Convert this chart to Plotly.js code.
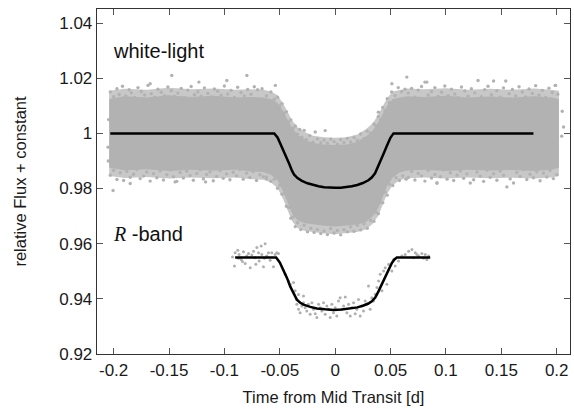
<!DOCTYPE html>
<html>
<head>
<meta charset="utf-8">
<script src="https://cdn.plot.ly/plotly-3.0.1.min.js"></script>
<style>html,body{margin:0;padding:0;background:#fff;}#chart{width:574px;height:409px;}</style>
</head>
<body>
<div id="chart"></div>
<script>
// ---------- data ----------
const xTicks = [-0.2, -0.15, -0.1, -0.05, 0, 0.05, 0.1, 0.15, 0.2];
const xTickText = ['-0.2', '-0.15', '-0.1', '-0.05', '0', '0.05', '0.1', '0.15', '0.2'];
const yTicks = [0.92, 0.94, 0.96, 0.98, 1, 1.02, 1.04];
const yTickText = ['0.92', '0.94', '0.96', '0.98', '1', '1.02', '1.04'];

// white-light: envelope of the dense point cloud (solid core and speckled fringe)
const wlBandX = [-0.204, -0.19, -0.17, -0.15, -0.13, -0.11, -0.09, -0.075, -0.065, -0.058, -0.052, -0.047, -0.043, -0.039, -0.034, -0.028, -0.02, -0.01, 0, 0.01, 0.02, 0.028, 0.034, 0.039, 0.043, 0.047, 0.052, 0.058, 0.065, 0.08, 0.1, 0.12, 0.14, 0.16, 0.18, 0.195, 0.202];
const wlBandUpper = [1.0125, 1.0135, 1.013, 1.0138, 1.0132, 1.0136, 1.013, 1.0132, 1.013, 1.0125, 1.011, 1.008, 1.005, 1.002, 0.9995, 0.998, 0.9965, 0.996, 0.9958, 0.996, 0.997, 0.999, 1.001, 1.004, 1.007, 1.010, 1.0125, 1.013, 1.0135, 1.0132, 1.0136, 1.013, 1.0134, 1.013, 1.0135, 1.013, 1.0125];
const wlBandLower = [0.9875, 0.9866, 0.987, 0.9864, 0.9868, 0.9865, 0.9868, 0.9862, 0.986, 0.985, 0.983, 0.979, 0.975, 0.971, 0.9685, 0.9675, 0.967, 0.9665, 0.9662, 0.9665, 0.967, 0.968, 0.970, 0.973, 0.977, 0.981, 0.984, 0.9858, 0.9865, 0.9868, 0.9864, 0.9868, 0.9865, 0.9867, 0.9864, 0.9868, 0.9875];
const wlOuterUpper = [1.0155, 1.0162, 1.0158, 1.0165, 1.016, 1.0163, 1.0158, 1.016, 1.0158, 1.0152, 1.0138, 1.0108, 1.0078, 1.0048, 1.0022, 1.0006, 0.9991, 0.9986, 0.9984, 0.9986, 0.9996, 1.0016, 1.0037, 1.0068, 1.0098, 1.0128, 1.0152, 1.0158, 1.0163, 1.016, 1.0164, 1.0158, 1.0162, 1.0158, 1.0163, 1.0158, 1.0155];
const wlOuterLower = [0.9845, 0.9838, 0.9842, 0.9836, 0.984, 0.9837, 0.984, 0.9834, 0.9832, 0.9822, 0.9802, 0.9762, 0.9722, 0.9682, 0.9657, 0.9647, 0.9642, 0.9637, 0.9634, 0.9637, 0.9642, 0.9652, 0.9672, 0.9702, 0.9742, 0.9782, 0.9812, 0.983, 0.9837, 0.984, 0.9836, 0.984, 0.9837, 0.9839, 0.9836, 0.984, 0.9845];

// white-light: scattered points at the edges of the cloud
const wlPtsX = [
-0.203,-0.200,-0.197,-0.195,-0.192,-0.189,-0.186,-0.184,-0.181,-0.178,-0.175,-0.172,-0.169,-0.166,-0.163,-0.160,-0.157,-0.154,-0.151,-0.148,-0.145,-0.142,-0.139,-0.136,-0.133,-0.130,-0.127,-0.124,-0.121,-0.118,-0.115,-0.112,-0.109,-0.106,-0.103,-0.100,-0.097,-0.094,-0.091,-0.088,-0.085,-0.082,-0.079,-0.076,-0.073,-0.0797,-0.1475,-0.167,-0.123,-0.0978,
-0.203,-0.200,-0.197,-0.194,-0.191,-0.188,-0.185,-0.182,-0.179,-0.176,-0.173,-0.170,-0.167,-0.164,-0.161,-0.158,-0.155,-0.152,-0.149,-0.146,-0.143,-0.140,-0.137,-0.134,-0.131,-0.128,-0.125,-0.122,-0.119,-0.116,-0.113,-0.110,-0.107,-0.104,-0.101,-0.098,-0.095,-0.092,-0.089,-0.086,-0.083,-0.080,-0.077,-0.074,-0.071,-0.068,-0.065,-0.062,-0.2005,-0.185,-0.1445,-0.117,
-0.2045,-0.205,-0.2048,
-0.070,-0.066,-0.062,-0.058,-0.055,-0.052,-0.050,-0.048,-0.046,-0.044,-0.042,-0.040,-0.038,-0.036,-0.034,-0.032,-0.030,-0.028,-0.026,-0.023,-0.020,-0.018,-0.016,-0.013,-0.010,-0.009,-0.007,-0.004,-0.001,0.002,0.005,0.008,0.011,0.014,0.017,0.020,0.023,0.026,0.029,0.032,0.035,0.037,0.039,0.041,0.043,0.045,0.047,0.049,0.051,0.054,0.057,0.060,0.063,-0.054,0.0512,0.0647,0.0828,0.039,
-0.062,-0.058,-0.055,-0.052,-0.050,-0.048,-0.046,-0.044,-0.042,-0.040,-0.038,-0.036,-0.034,-0.031,-0.028,-0.025,-0.022,-0.019,-0.016,-0.013,-0.010,-0.007,-0.004,-0.001,0.002,0.005,0.008,0.011,0.014,0.017,0.020,0.023,0.026,0.029,0.032,0.035,0.037,0.039,0.041,0.043,0.045,0.047,0.049,0.052,0.055,0.058,0.061,0.064,
0.066,0.069,0.072,0.075,0.078,0.081,0.084,0.087,0.090,0.093,0.096,0.099,0.102,0.105,0.108,0.111,0.114,0.117,0.120,0.123,0.126,0.129,0.132,0.135,0.138,0.141,0.143,0.146,0.149,0.152,0.154,0.157,0.160,0.163,0.166,0.169,0.172,0.175,0.178,0.181,0.184,0.187,0.190,0.193,0.196,0.199,0.201,0.1986,
0.066,0.069,0.072,0.075,0.078,0.081,0.084,0.087,0.090,0.092,0.095,0.098,0.101,0.104,0.107,0.110,0.113,0.116,0.119,0.122,0.125,0.128,0.131,0.134,0.137,0.140,0.143,0.146,0.149,0.152,0.155,0.158,0.161,0.164,0.167,0.170,0.173,0.176,0.179,0.182,0.185,0.188,0.191,0.194,0.197,0.200,0.0918,0.2062,0.2045,0.205
];
const wlPtsY = [
1.0150,1.0133,1.0162,1.0141,1.0171,1.0136,1.0158,1.0147,1.0130,1.0166,1.0152,1.0139,1.0174,1.0144,1.0131,1.0160,1.0149,1.0137,1.0168,1.0155,1.0134,1.0146,1.0163,1.0129,1.0157,1.0170,1.0140,1.0151,1.0135,1.0165,1.0145,1.0132,1.0161,1.0153,1.0138,1.0172,1.0143,1.0156,1.0130,1.0167,1.0148,1.0136,1.0159,1.0142,1.0169,1.0210,1.0210,1.0180,1.0186,1.0192,
0.9848,0.9866,0.9833,0.9857,0.9829,0.9862,0.9841,0.9852,0.9869,0.9836,0.9845,0.9860,0.9827,0.9854,0.9839,0.9864,0.9831,0.9850,0.9867,0.9843,0.9826,0.9858,0.9838,0.9863,0.9847,0.9830,0.9855,0.9868,0.9835,0.9851,0.9861,0.9828,0.9844,0.9865,0.9837,0.9853,0.9832,0.9859,0.9846,0.9869,0.9834,0.9856,0.9840,0.9862,0.9829,0.9850,0.9843,0.9836,0.9793,0.9818,0.9824,0.9824,
1.0050,0.9950,0.9900,
1.0158,1.0162,1.0136,1.0150,1.0124,1.0131,1.0099,1.0108,1.0074,1.0079,1.0041,1.0049,1.0019,1.0027,0.9998,1.0014,0.9986,1.0011,0.9978,0.9992,0.9968,1.0005,0.9980,0.9966,0.9976,1.0010,0.9964,0.9979,0.9970,0.9961,0.9977,0.9967,0.9982,0.9969,0.9985,0.9974,0.9998,0.9981,1.0008,1.0001,1.0034,1.0027,1.0061,1.0049,1.0094,1.0082,1.0126,1.0112,1.0150,1.0137,1.0166,1.0151,1.0160,1.0174,1.0180,1.0204,1.0186,1.0077,
0.9842,0.9826,0.9834,0.9801,0.9812,0.9779,0.9783,0.9736,0.9731,0.9692,0.9697,0.9662,0.9676,0.9651,0.9667,0.9643,0.9656,0.9641,0.9651,0.9637,0.9646,0.9633,0.9655,0.9639,0.9648,0.9632,0.9651,0.9643,0.9661,0.9645,0.9667,0.9650,0.9672,0.9656,0.9684,0.9681,0.9714,0.9709,0.9751,0.9748,0.9787,0.9776,0.9816,0.9811,0.9839,0.9829,0.9846,0.9834,
1.0146,1.0163,1.0131,1.0157,1.0170,1.0186,1.0139,1.0152,1.0166,1.0134,1.0149,1.0172,1.0137,1.0160,1.0143,1.0129,1.0168,1.0154,1.0135,1.0162,1.0147,1.0192,1.0133,1.0158,1.0171,1.0140,1.0190,1.0155,1.0131,1.0165,1.0190,1.0144,1.0159,1.0136,1.0169,1.0150,1.0132,1.0161,1.0145,1.0173,1.0138,1.0156,1.0130,1.0164,1.0148,1.0174,1.0142,1.0174,
0.9840,0.9862,0.9831,0.9855,0.9846,0.9827,0.9866,0.9838,0.9851,0.9820,0.9843,0.9868,0.9834,0.9857,0.9829,0.9849,0.9864,0.9837,0.9853,0.9820,0.9832,0.9860,0.9845,0.9826,0.9867,0.9841,0.9854,0.9830,0.9863,0.9848,0.9806,0.9835,0.9820,0.9858,0.9844,0.9869,0.9833,0.9852,0.9839,0.9861,0.9828,0.9856,0.9842,0.9865,0.9836,0.9850,0.9820,1.0023,0.9990,1.0080
];

// white-light model
const wlModelX = [-0.203, -0.055, -0.052, -0.0485, -0.045, -0.0415, -0.039, -0.037, -0.034, -0.030, -0.025, -0.020, -0.015, -0.010, -0.005, 0, 0.005, 0.010, 0.015, 0.020, 0.025, 0.030, 0.033, 0.036, 0.040, 0.0435, 0.047, 0.050, 0.0527, 0.179];
const wlModelY = [1.0, 1.0, 0.9985, 0.9955, 0.9922, 0.9890, 0.9865, 0.9850, 0.9838, 0.9828, 0.9819, 0.9813, 0.9808, 0.9805, 0.9803, 0.9803, 0.9803, 0.9805, 0.9808, 0.9813, 0.9820, 0.9830, 0.9840, 0.9855, 0.9890, 0.9924, 0.9958, 0.9985, 1.0, 1.0];

// R-band points
const rPtsX = [-0.0927,-0.0903,-0.0879,-0.0867,-0.0849,-0.0828,-0.0812,-0.0797,-0.0782,-0.0767,-0.0752,-0.0737,-0.0722,-0.0707,-0.0692,-0.0686,-0.0668,-0.0662,-0.0647,-0.0632,-0.0617,-0.0602,-0.0587,-0.0572,-0.0557,-0.0542,-0.0527,-0.0512,-0.0909,-0.0873,-0.0837,-0.0716,-0.0638,
-0.0451,-0.0421,-0.0406,-0.0376,-0.0361,-0.0346,-0.0331,-0.0301,-0.0286,
-0.0346,-0.0331,-0.0316,-0.0286,-0.0271,-0.0256,-0.0241,-0.0226,-0.0210,-0.0195,-0.0180,-0.0165,-0.0150,-0.0135,-0.0120,-0.0105,-0.0090,-0.0075,-0.0060,-0.0045,-0.0030,-0.0015,0.0000,0.0015,0.0030,0.0045,0.0060,0.0076,0.0091,0.0106,0.0121,0.0136,0.0151,0.0166,0.0181,0.0196,0.0211,0.0226,0.0241,0.0256,0.0271,0.0286,0.0301,0.0316,0.0331,
0.0346,0.0362,0.0377,0.0392,0.0407,0.0422,0.0437,0.0452,0.0467,0.0482,0.0512,0.0527,0.0542,0.0572,0.0602,0.0632,0.0663,0.0693,0.0708,0.0723,0.0738,0.0753,0.0783,0.0798,0.0813,0.0828,0.0843];
const rPtsY = [0.9552,0.9567,0.9576,0.9561,0.9543,0.9571,0.9528,0.9555,0.9564,0.9513,0.9559,0.9573,0.9549,0.9586,0.9567,0.9537,0.9592,0.9561,0.9516,0.9600,0.9555,0.9567,0.9540,0.9567,0.9516,0.9561,0.9567,0.9564,0.9519,0.9547,0.9535,0.9525,0.9547,
0.9489,0.9465,0.9453,0.9459,0.9429,0.9398,0.9416,0.9374,0.9410,
0.9380,0.9362,0.9350,0.9386,0.9368,0.9356,0.9380,0.9344,0.9386,0.9362,0.9346,0.9332,0.9380,0.9368,0.9356,0.9386,0.9344,0.9374,0.9362,0.9332,0.9380,0.9350,0.9368,0.9338,0.9392,0.9404,0.9362,0.9374,0.9407,0.9350,0.9380,0.9338,0.9368,0.9386,0.9346,0.9362,0.9398,0.9338,0.9374,0.9356,0.9392,0.9380,0.9447,0.9362,0.9404,
0.9392,0.9417,0.9441,0.9465,0.9489,0.9429,0.9501,0.9513,0.9453,0.9525,0.9501,0.9543,0.9519,0.9537,0.9555,0.9561,0.9573,0.9579,0.9549,0.9567,0.9561,0.9555,0.9564,0.9547,0.9561,0.9543,0.9555];

// R-band model
const rModelX = [-0.0903, -0.0533, -0.050, -0.0467, -0.0435, -0.0406, -0.0375, -0.0346, -0.0315, -0.0286, -0.0225, -0.0165, -0.009, -0.0015, 0.006, 0.0135, 0.020, 0.0256, 0.030, 0.0331, 0.0362, 0.0391, 0.0422, 0.0452, 0.0482, 0.0512, 0.0535, 0.0557, 0.0858];
const rModelY = [0.955, 0.955, 0.9532, 0.9506, 0.9476, 0.9445, 0.9418, 0.9397, 0.9386, 0.9379, 0.9371, 0.9365, 0.9362, 0.936, 0.9361, 0.9364, 0.9369, 0.9376, 0.9383, 0.9391, 0.9405, 0.9427, 0.9453, 0.9482, 0.9508, 0.953, 0.9543, 0.955, 0.955];

// ---------- figure ----------
const gray = '#b2b2b2';
const fringe = '#c8c8c8';
const rev = a => a.slice().reverse();
const coreX = wlBandX.concat(rev(wlBandX));
const coreY = wlBandUpper.concat(rev(wlBandLower));
const outerY = wlOuterUpper.concat(rev(wlOuterLower));

const traces = [
  {x: coreX, y: outerY, type: 'scatter', mode: 'lines', fill: 'toself', fillcolor: fringe, line: {width: 0, color: fringe}, hoverinfo: 'skip'},
  {x: coreX, y: coreY, type: 'scatter', mode: 'lines', fill: 'toself', fillcolor: gray, line: {width: 0, color: gray}, hoverinfo: 'skip'},
  {x: wlPtsX, y: wlPtsY, type: 'scatter', mode: 'markers', marker: {size: 3.4, color: gray}, hoverinfo: 'skip'},
  {x: wlModelX, y: wlModelY, type: 'scatter', mode: 'lines', line: {color: '#000', width: 2.5}},
  {x: rPtsX, y: rPtsY, type: 'scatter', mode: 'markers', marker: {size: 3, color: '#b0b0b0'}, hoverinfo: 'skip'},
  {x: rModelX, y: rModelY, type: 'scatter', mode: 'lines', line: {color: '#000', width: 2.5}}
];

const fontFam = 'Liberation Sans, Arial, sans-serif';
const layout = {
  width: 574, height: 409,
  margin: {l: 97, r: 4, t: 9, b: 55},
  paper_bgcolor: '#fff', plot_bgcolor: '#fff',
  showlegend: false,
  font: {family: fontFam, size: 16, color: '#1a1a1a'},
  xaxis: {
    range: [-0.215, 0.212], tickvals: xTicks, ticktext: xTickText, ticks: 'inside', ticklen: 6, tickwidth: 1, tickcolor: '#555',
    showline: true, linecolor: '#333', linewidth: 1.3, mirror: 'ticks', showgrid: false, zeroline: false,
    tickfont: {size: 17}, title: {text: 'Time from Mid Transit [d]', font: {size: 16.5}, standoff: 12}
  },
  yaxis: {
    range: [0.92, 1.0451], tickvals: yTicks, ticktext: yTickText, ticks: 'inside', ticklen: 6, tickwidth: 1, tickcolor: '#555',
    showline: true, linecolor: '#333', linewidth: 1.3, mirror: 'ticks', showgrid: false, zeroline: false,
    tickfont: {size: 17}, title: {text: 'relative Flux + constant', font: {size: 16.5}, standoff: 28}
  },
  annotations: [
    {x: -0.2023, y: 1.0297, xref: 'x', yref: 'y', text: 'white-light', showarrow: false, xanchor: 'left', yanchor: 'middle', font: {size: 20, family: fontFam, color: '#111'}},
    {x: -0.2023, y: 0.9636, xref: 'x', yref: 'y', text: '<span style="font-family:Liberation Serif,serif;font-style:italic">R</span> -band', showarrow: false, xanchor: 'left', yanchor: 'middle', font: {size: 20, family: fontFam, color: '#111'}}
  ]
};

Plotly.newPlot('chart', traces, layout, {staticPlot: true, displayModeBar: false});
</script>
</body>
</html>
